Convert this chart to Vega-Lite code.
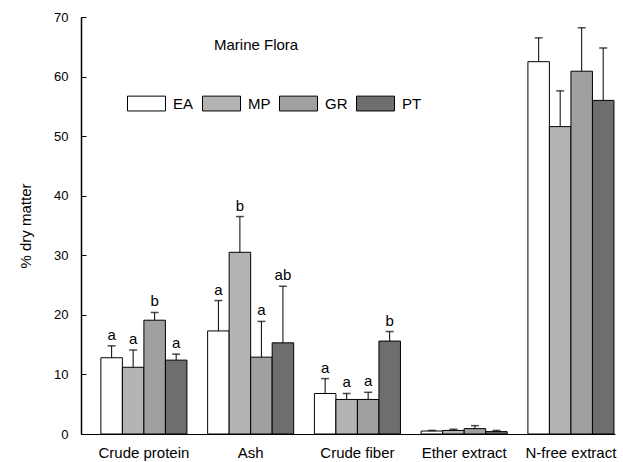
{
  "$schema": "https://vega.github.io/schema/vega-lite/v6.json",
  "width": 534,
  "height": 417,
  "autosize": {"type": "none"},
  "padding": {"left": 81, "top": 17, "right": 8, "bottom": 28},
  "background": "white",
  "config": {
    "view": {"stroke": null},
    "font": "Liberation Sans",
    "axis": {"grid": false, "domainColor": "black", "labelColor": "black", "titleColor": "black", "tickColor": "black"}
  },
  "title": {"text": "Marine Flora", "anchor": "start", "frame": "group", "dx": 133, "offset": -43, "fontSize": 15, "fontWeight": "normal", "font": "Liberation Sans", "color": "black"},
  "data": {"values": [
    {"category": "Crude protein", "group": "EA", "value": 12.8, "err": 14.8, "letter": "a"},
    {"category": "Crude protein", "group": "MP", "value": 11.2, "err": 14.1, "letter": "a"},
    {"category": "Crude protein", "group": "GR", "value": 19.1, "err": 20.4, "letter": "b"},
    {"category": "Crude protein", "group": "PT", "value": 12.4, "err": 13.4, "letter": "a"},
    {"category": "Ash", "group": "EA", "value": 17.3, "err": 22.4, "letter": "a"},
    {"category": "Ash", "group": "MP", "value": 30.5, "err": 36.5, "letter": "b"},
    {"category": "Ash", "group": "GR", "value": 12.9, "err": 18.9, "letter": "a"},
    {"category": "Ash", "group": "PT", "value": 15.3, "err": 24.8, "letter": "ab"},
    {"category": "Crude fiber", "group": "EA", "value": 6.8, "err": 9.3, "letter": "a"},
    {"category": "Crude fiber", "group": "MP", "value": 5.8, "err": 6.8, "letter": "a"},
    {"category": "Crude fiber", "group": "GR", "value": 5.8, "err": 7.0, "letter": "a"},
    {"category": "Crude fiber", "group": "PT", "value": 15.6, "err": 17.2, "letter": "b"},
    {"category": "Ether extract", "group": "EA", "value": 0.5, "err": 0.6, "letter": ""},
    {"category": "Ether extract", "group": "MP", "value": 0.6, "err": 0.8, "letter": ""},
    {"category": "Ether extract", "group": "GR", "value": 0.9, "err": 1.4, "letter": ""},
    {"category": "Ether extract", "group": "PT", "value": 0.4, "err": 0.6, "letter": ""},
    {"category": "N-free extract", "group": "EA", "value": 62.5, "err": 66.5, "letter": ""},
    {"category": "N-free extract", "group": "MP", "value": 51.6, "err": 57.6, "letter": ""},
    {"category": "N-free extract", "group": "GR", "value": 60.9, "err": 68.2, "letter": ""},
    {"category": "N-free extract", "group": "PT", "value": 56.0, "err": 64.8, "letter": ""}
  ]},
  "encoding": {
    "x": {"field": "category", "type": "nominal", "sort": null,
      "scale": {"paddingInner": 0.194, "paddingOuter": 0.098, "align": 0.95},
      "axis": {"title": null, "labelAngle": 0, "ticks": false, "labelPadding": 11, "labelFontSize": 15, "labelFont": "Liberation Sans", "domainWidth": 1}},
    "xOffset": {"field": "group", "type": "nominal", "sort": ["EA", "MP", "GR", "PT"], "scale": {"paddingInner": 0, "paddingOuter": 0}}
  },
  "layer": [
    {
      "mark": {"type": "bar", "stroke": "black", "strokeWidth": 1},
      "encoding": {
        "y": {"field": "value", "type": "quantitative",
          "scale": {"domain": [0, 70], "nice": false},
          "axis": {"title": "% dry matter", "values": [0, 10, 20, 30, 40, 50, 60, 70], "tickSize": -5, "labelPadding": 18, "labelFontSize": 13, "labelFont": "Liberation Sans", "titleFontSize": 15, "titleFontWeight": "normal", "titleFont": "Liberation Sans", "titlePadding": 20, "domainWidth": 1.5}},
        "fill": {"field": "group", "type": "nominal", "sort": ["EA", "MP", "GR", "PT"],
          "scale": {"domain": ["EA", "MP", "GR", "PT"], "range": ["#ffffff", "#b4b4b4", "#a0a0a0", "#6e6e6e"]},
          "legend": {"title": null, "orient": "none", "legendX": 46, "legendY": 67, "direction": "horizontal", "columns": 4, "padding": 0,
            "symbolType": "M-1,-0.39L1,-0.39L1,0.39L-1,0.39Z", "symbolSize": 1444, "symbolStrokeColor": "black", "symbolStrokeWidth": 1, "symbolOpacity": 1,
            "labelFont": "Liberation Sans", "labelFontSize": 15, "labelFontWeight": "normal", "labelColor": "black", "labelOffset": 7, "columnPadding": 6}}
      }
    },
    {
      "mark": {"type": "rule", "color": "black", "strokeWidth": 1},
      "encoding": {"y": {"field": "value", "type": "quantitative"}, "y2": {"field": "err"}}
    },
    {
      "mark": {"type": "tick", "color": "black", "size": 8, "thickness": 1.5},
      "encoding": {"y": {"field": "err", "type": "quantitative"}}
    },
    {
      "mark": {"type": "text", "baseline": "bottom", "dy": -3, "fontSize": 15, "font": "Liberation Sans", "color": "black"},
      "encoding": {"y": {"field": "err", "type": "quantitative"}, "text": {"field": "letter"}}
    }
  ]
}
